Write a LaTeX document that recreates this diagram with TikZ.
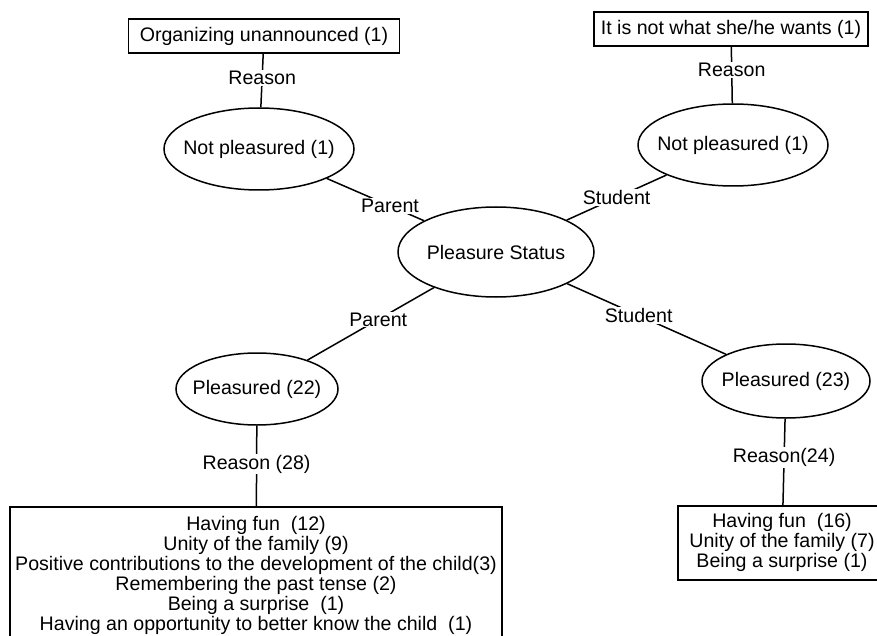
\documentclass[tikz,border=0pt]{standalone}
\usepackage{fontspec}
\setmainfont{Liberation Sans}
\usetikzlibrary{shapes.geometric}

\begin{document}
\begin{tikzpicture}[x=1pt,y=-1pt,
    line width=1.5pt,
    every node/.style={font=\fontsize{19.6}{20}\selectfont},
    stnode/.style={draw,ellipse,inner xsep=-14pt,minimum width=190pt,minimum height=82pt},
    rsnode/.style={draw,rectangle,inner sep=0pt,minimum height=34pt},
    lsnode/.style={draw,rectangle,anchor=north,align=center,inner xsep=0pt},
    lbl/.style={fill=white,inner sep=1pt}
    ]
    \useasboundingbox (0,0) rectangle (877,636);
    \clip (0,0) rectangle (877,636);

    \node (ps) [stnode,minimum width=196pt,minimum height=90pt] at (496,252) {Pleasure Status};
    \node (np1) [stnode] at (259,149) {Not pleasured (1)};
    \node (np2) [stnode] at (733,145) {Not pleasured (1)};
    \node (p22) [stnode,minimum width=162pt,minimum height=72pt] at (257,389) {Pleasured (22)};
    \node (p23) [stnode,minimum width=168pt,minimum height=74pt] at (786,381) {Pleasured (23)};
    \node (r1) [rsnode,minimum width=271pt] at (264,36) {Organizing unannounced (1)};
    \node (r2) [rsnode,minimum width=274pt] at (731,29) {It is not what she/he wants (1)};
    \node (r3) [lsnode,minimum width=492pt,inner ysep=10pt] at (256,506)
      {Having fun~~(12)\\Unity of the family (9)\\
       Positive contributions to the development of the child(3)\\
       Remembering the past tense (2)\\Being a surprise~~(1)\\
       Having an opportunity to better know the child~~(1)};
    \node (r4) [lsnode,minimum width=208pt,inner ysep=8pt] at (782,505)
      {Having fun~~(16)\\Unity of the family (7)\\Being a surprise (1)};

    % the edges
    \draw (r1) -- node[lbl,pos=0.45] (e1) {Reason} (np1);
    \draw (r2) -- node[lbl,pos=0.41] (e2) {Reason} (np2);
    \draw (np1) -- node[lbl,pos=0.65] (e3) {Parent} (ps);
    \draw (np2) -- node[lbl,pos=0.5] (e4) {Student} (ps);
    \draw (ps) -- node[lbl,pos=0.44] (e5) {Parent} (p22);
    \draw (ps) -- node[lbl,pos=0.45] (e6) {Student} (p23);
    \draw (p22) -- node[lbl,pos=0.48] (e7) {Reason (28)} (r3);
    \draw (p23) -- node[lbl,pos=0.45] (e8) {Reason(24)} (r4);
\end{tikzpicture}
\end{document}
